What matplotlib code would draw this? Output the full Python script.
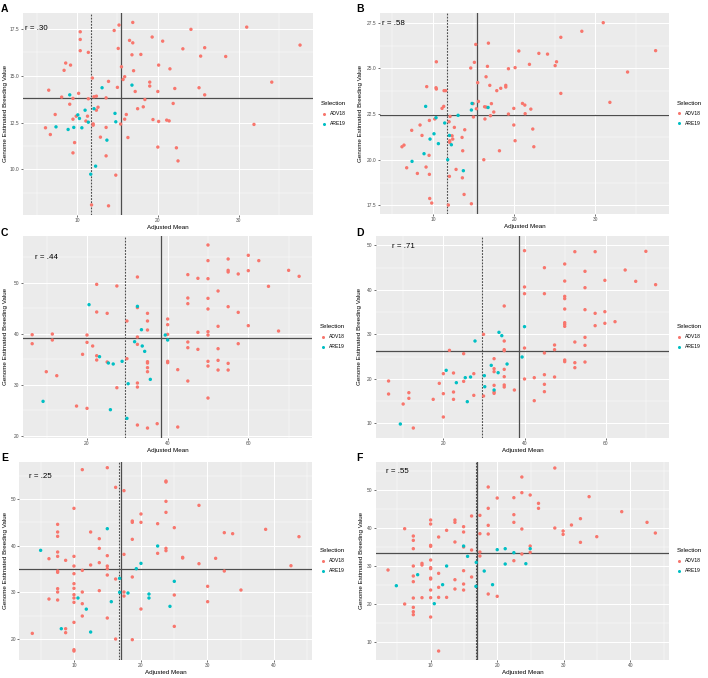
import matplotlib
matplotlib.use('Agg')
import matplotlib.pyplot as plt
from matplotlib.ticker import MultipleLocator, FormatStrFormatter
from matplotlib.lines import Line2D

plt.rcParams['font.family'] = ['Liberation Sans', 'DejaVu Sans']

RED = '#F8766D'
TEAL = '#00BFC4'
series_names = ['ADV18', 'ARE19']
x_title = 'Adjusted Mean'
y_title = 'Genome Estimated Breeding Value'
legend_title = 'Selection'

# ---------------- Panel A ----------------
a_adv_x = [15.2, 16.9, 14.6, 10.4, 10.4, 10.4, 11.4, 15.1, 16.5, 16.9,
           19.3, 20.6, 24.1, 31.0, 37.6, 23.1, 25.8, 16.8, 17.9, 25.3,
           28.4, 8.6, 9.2, 8.4, 15.5, 20.1, 21.5, 17.0, 11.9, 15.9,
           15.7, 13.9, 19.0, 19.0, 34.1, 15.0, 6.5, 10.2, 17.2, 20.0,
           22.1, 25.1, 25.8, 8.1, 9.5, 11.4, 12.1, 12.4, 13.6, 18.4,
           9.1, 21.9, 12.6, 12.4, 17.5, 18.2, 7.3, 16.1, 9.9, 11.3,
           9.5, 11.1, 15.9, 19.4, 20.1, 21.1, 21.4, 12.0, 12.0, 15.4,
           31.9, 6.1, 6.7, 13.6, 12.9, 16.3, 9.7, 9.5, 20.0, 22.3,
           13.6, 22.5, 14.8, 11.8, 13.9]
a_adv_y = [17.71, 17.85, 17.42, 17.35, 16.94, 16.34, 16.25, 16.46, 16.89, 16.76,
           17.07, 16.85, 17.48, 17.60, 16.64, 16.44, 16.50, 16.12, 16.14, 16.05,
           16.03, 15.68, 15.57, 15.29, 15.48, 15.57, 15.37, 15.27, 14.88, 14.95,
           14.80, 14.70, 14.66, 14.45, 14.66, 14.38, 14.23, 14.06, 14.16, 14.16,
           14.32, 14.36, 13.98, 13.86, 13.79, 13.77, 13.88, 13.91, 13.82, 13.73,
           13.48, 13.52, 13.32, 13.16, 13.24, 13.34, 12.93, 12.93, 12.84, 12.84,
           12.68, 12.58, 12.68, 12.66, 12.56, 12.63, 12.59, 12.43, 12.36, 12.42,
           12.40, 12.22, 11.86, 12.24, 11.72, 11.70, 11.43, 10.88, 11.19, 11.15,
           10.72, 10.45, 9.69, 8.10, 8.05]
a_are_x = [16.8, 13.1, 9.1, 11.0, 12.1, 10.1, 14.7, 10.3, 11.4, 14.8, 7.4, 8.9, 9.6, 10.6, 13.7, 12.3, 11.7]
a_are_y = [14.50, 14.36, 13.98, 13.16, 13.24, 12.91, 12.99, 12.72, 12.52, 12.54, 12.27, 12.13, 12.24, 12.22, 11.56, 10.17, 9.74]
a_lines = {'dotted': 11.69, 'solid': 15.44, 'hline': 13.79}

# ---------------- Panel B ----------------
b_adv_x = [30.99, 28.35, 25.76, 15.27, 16.83, 20.58, 23.05, 24.12, 37.45, 10.41,
           15.10, 25.23, 21.89, 25.06, 16.71, 14.65, 19.30, 20.12, 33.99, 16.54,
           15.51, 9.22, 10.37, 10.41, 17.0, 18.97, 18.97, 18.35, 17.86, 11.36,
           11.56, 25.76, 15.60, 31.81, 14.94, 17.20, 16.36, 16.56, 21.03, 21.32,
           11.32, 11.11, 19.96, 22.06, 15.35, 17.49, 17.08, 19.30, 21.36, 12.10,
           14.98, 10.21, 9.55, 16.40, 11.98, 12.63, 8.40, 7.37, 13.91, 19.96,
           22.30, 8.64, 12.35, 13.58, 12.43, 12.06, 12.06, 6.42, 6.17, 20.12,
           22.43, 13.66, 18.19, 9.51, 16.26, 6.75, 9.14, 8.07, 9.55, 12.84,
           13.62, 12.02, 13.83, 9.59, 9.84, 11.89, 14.73]
b_adv_y = [27.5, 27.03, 26.70, 26.31, 26.38, 25.95, 25.82, 25.78, 25.97, 25.36,
           25.33, 25.36, 25.22, 25.15, 25.11, 25.02, 24.98, 25.04, 24.80, 24.54,
           24.22, 24.0, 23.94, 23.87, 24.07, 24.07, 23.98, 23.91, 23.78, 23.78,
           23.78, 23.63, 23.19, 23.14, 23.07, 23.07, 22.90, 22.88, 23.08, 22.99,
           22.92, 22.81, 22.81, 22.77, 22.79, 22.61, 22.41, 22.5, 22.52, 22.37,
           22.34, 22.23, 22.15, 22.23, 22.08, 21.77, 21.90, 21.61, 21.64, 21.90,
           21.68, 21.33, 21.31, 21.22, 21.13, 21.04, 20.95, 20.80, 20.71, 21.04,
           20.71, 20.49, 20.49, 20.24, 20.0, 19.56, 19.60, 19.25, 19.20, 19.47,
           19.01, 19.09, 18.10, 17.88, 17.63, 17.52, 17.59]
b_are_x = [9.09, 14.81, 14.73, 16.79, 13.09, 10.37, 11.44, 10.12, 12.02, 9.63, 10.66, 12.26, 8.89, 11.81, 7.41, 13.74]
b_are_y = [22.92, 23.08, 22.72, 22.86, 22.43, 22.30, 22.01, 21.42, 21.33, 21.13, 20.88, 20.82, 20.33, 20.0, 19.91, 19.40]
b_lines = {'dotted': 11.69, 'solid': 15.47, 'hline': 22.45}

# ---------------- Panel C ----------------
c_adv_x = [50.0, 50.0, 55.0, 60.0, 62.6, 55.0, 55.0, 57.5, 60.0, 70.0,
           72.6, 45.0, 47.5, 50.0, 32.5, 22.4, 27.4, 65.0, 52.5, 45.0,
           50.0, 45.0, 32.5, 55.0, 50.0, 57.5, 22.4, 25.0, 35.0, 40.0,
           29.9, 35.0, 40.0, 52.5, 60.0, 35.0, 32.5, 67.5, 47.5, 50.0,
           50.0, 40.0, 6.4, 11.4, 20.0, 11.4, 6.4, 20.0, 21.4, 45.0,
           45.0, 47.5, 52.5, 57.5, 32.5, 18.9, 22.4, 22.4, 25.0, 29.9,
           35.0, 35.0, 35.0, 35.0, 40.0, 40.0, 50.0, 50.0, 55.0, 52.5,
           52.5, 55.0, 42.5, 9.9, 12.5, 45.0, 32.5, 32.5, 27.4, 50.0,
           17.4, 20.0, 37.4, 32.5, 35.0, 42.5]
c_adv_y = [57.35, 54.29, 54.61, 55.33, 54.29, 52.39, 52.07, 51.68, 52.33, 52.39,
           51.22, 51.55, 50.83, 50.76, 51.09, 49.65, 49.33, 49.26, 48.35, 46.98,
           46.91, 45.87, 45.10, 45.28, 44.83, 44.17, 44.24, 43.98, 43.98, 42.87,
           42.48, 42.48, 41.76, 41.44, 41.57, 40.72, 39.35, 40.52, 40.26, 40.39,
           39.74, 39.87, 39.80, 39.93, 39.74, 38.76, 38.04, 38.30, 37.59, 38.37,
           37.26, 36.93, 37.06, 38.04, 37.91, 35.96, 35.69, 34.85, 34.46, 35.11,
           34.52, 34.26, 33.35, 32.56, 34.59, 34.33, 34.59, 33.67, 34.19, 34.78,
           32.89, 32.89, 32.96, 32.56, 31.78, 30.74, 30.35, 29.56, 29.43, 27.41,
           25.84, 25.39, 22.39, 22.13, 21.54, 21.74]
c_are_x = [20.5, 32.5, 33.5, 39.4, 40.0, 31.8, 33.7, 34.3, 23.1, 28.7, 25.3, 26.5, 35.7, 30.2, 9.1, 25.8, 29.9]
c_are_y = [45.68, 45.35, 40.78, 39.74, 38.76, 38.43, 37.59, 36.54, 35.50, 34.59, 34.26, 34.07, 31.06, 30.21, 26.76, 25.13, 23.43]
c_lines = {'dotted': 29.34, 'solid': 38.43, 'hline': 39.22}

# ---------------- Panel D ----------------
d_adv_x = [40.0, 52.4, 57.4, 69.9, 44.9, 49.9, 54.9, 64.8, 49.9, 59.8,
           67.4, 72.3, 40.0, 54.9, 40.0, 44.9, 49.9, 49.9, 35.0, 49.9,
           54.9, 57.4, 59.8, 62.3, 59.8, 49.9, 49.9, 49.9, 57.4, 29.9,
           35.0, 54.9, 52.4, 54.9, 47.4, 47.4, 35.0, 35.0, 40.0, 21.5,
           25.0, 44.9, 32.5, 49.9, 49.9, 52.4, 54.9, 52.4, 32.5, 35.0,
           32.5, 22.5, 27.5, 20.0, 35.0, 47.4, 42.4, 40.0, 44.9, 25.0,
           19.0, 6.5, 32.5, 35.0, 35.0, 44.9, 37.5, 32.5, 32.5, 22.5,
           11.5, 6.5, 20.0, 44.9, 27.5, 29.9, 11.5, 22.5, 17.5, 42.4,
           10.1, 20.0, 12.6]
d_adv_y = [48.83, 48.60, 48.60, 48.68, 45.00, 45.83, 44.18, 44.48, 41.99, 42.15,
           41.93, 41.18, 40.66, 40.50, 39.15, 39.15, 38.55, 38.03, 36.38, 35.70,
           35.55, 34.73, 35.10, 32.85, 32.48, 32.63, 32.25, 31.80, 31.95, 30.00,
           28.50, 29.32, 28.27, 27.52, 27.60, 26.55, 26.55, 26.32, 26.92, 26.40,
           25.65, 25.80, 24.52, 24.22, 23.85, 23.62, 23.77, 22.50, 22.27, 22.12,
           21.60, 21.30, 21.15, 21.15, 20.47, 20.40, 20.25, 19.95, 20.92, 19.42,
           18.97, 19.50, 18.52, 18.60, 18.15, 18.75, 17.47, 17.02, 16.72, 17.02,
           16.87, 16.57, 16.65, 17.10, 16.27, 16.12, 15.60, 15.37, 15.37, 15.07,
           14.32, 11.40, 8.92]
d_are_x = [33.7, 34.4, 27.8, 40.0, 39.4, 35.7, 31.8, 33.5, 20.7, 25.4, 26.7, 23.2, 30.1, 30.2, 32.5, 25.9, 9.4]
d_are_y = [30.45, 29.70, 28.50, 31.73, 24.90, 23.32, 23.02, 21.37, 21.90, 20.25, 20.40, 19.12, 20.70, 18.22, 17.47, 14.85, 9.82]
d_lines = {'dotted': 29.45, 'solid': 38.56, 'hline': 26.17}

# ---------------- Panel E ----------------
e_adv_x = [11.25, 15.0, 16.25, 17.5, 23.8, 23.8, 23.8, 28.75, 10.0, 20.05,
           23.8, 18.75, 18.75, 20.05, 22.55, 7.55, 25.05, 32.55, 33.8, 38.75,
           43.75, 7.55, 12.5, 7.55, 13.8, 18.75, 13.8, 23.8, 23.8, 7.55,
           22.55, 17.5, 7.55, 10.0, 15.0, 6.25, 8.75, 26.3, 26.3, 31.25,
           13.8, 28.75, 12.5, 42.55, 10.0, 15.0, 15.0, 11.25, 7.55, 7.55,
           32.55, 10.0, 15.0, 18.75, 16.25, 10.0, 30.05, 7.55, 10.0, 35.05,
           7.55, 11.25, 13.8, 17.5, 10.0, 17.5, 25.05, 6.25, 7.55, 10.0,
           10.0, 11.25, 30.05, 20.05, 11.25, 15.0, 10.0, 25.05, 8.75, 8.75,
           3.75, 16.25, 18.75, 10.0, 10.0]
e_adv_y = [56.29, 56.71, 52.50, 51.79, 53.86, 53.64, 49.50, 48.64, 48.00, 46.79,
           47.14, 45.29, 45.00, 45.00, 44.71, 44.57, 43.86, 42.79, 42.57, 43.50,
           41.93, 42.93, 42.93, 42.00, 41.50, 41.36, 39.43, 39.43, 38.93, 38.64,
           38.36, 38.14, 37.71, 37.71, 37.86, 37.21, 36.86, 37.50, 37.36, 37.29,
           36.36, 36.14, 35.86, 35.71, 35.64, 35.64, 35.07, 34.71, 34.57, 34.29,
           34.57, 34.00, 33.71, 33.29, 32.86, 31.86, 31.29, 30.79, 30.86, 30.50,
           30.07, 30.07, 30.36, 30.07, 29.50, 29.21, 29.43, 28.57, 28.36, 28.79,
           27.86, 27.57, 28.00, 26.43, 24.93, 24.50, 23.57, 22.71, 22.21, 21.36,
           21.21, 20.00, 19.86, 17.71, 17.43]
e_are_x = [5.0, 15.0, 22.55, 20.05, 19.35, 25.05, 16.85, 16.85, 18.1, 21.25, 21.25, 10.6, 15.6, 24.4, 11.85, 8.1, 12.5]
e_are_y = [39.00, 43.64, 39.93, 36.21, 35.07, 32.36, 33.00, 30.00, 29.86, 29.64, 28.79, 28.79, 28.00, 27.00, 26.40, 22.21, 21.50]
e_lines = {'dotted': 16.8, 'solid': 17.0, 'hline': 35.07}

# ---------------- Panel F ----------------
f_adv_x = [28.65, 23.7, 18.65, 23.7, 24.95, 33.8, 20.0, 22.5, 26.2, 26.2,
           18.65, 38.7, 16.15, 17.4, 22.5, 22.5, 32.5, 31.15, 42.5, 10.0,
           10.0, 13.65, 13.65, 18.65, 14.95, 14.95, 6.1, 23.7, 28.65, 29.9,
           29.9, 43.75, 12.4, 17.4, 18.65, 7.4, 11.2, 34.95, 7.4, 13.65,
           32.5, 10.0, 10.0, 14.95, 24.95, 7.4, 16.15, 17.4, 24.95, 23.7,
           17.4, 10.0, 22.5, 7.4, 8.7, 8.7, 10.0, 10.0, 3.6, 14.95,
           11.2, 7.4, 10.0, 10.0, 16.15, 13.65, 7.4, 14.95, 11.2, 13.65,
           14.95, 10.0, 18.65, 20.0, 7.4, 8.7, 10.0, 11.2, 12.4, 6.1,
           7.4, 7.4, 7.4, 10.0, 11.2]
f_adv_y = [55.79, 53.42, 50.79, 49.30, 48.68, 48.25, 47.89, 47.98, 46.49, 45.18,
           45.18, 44.30, 43.16, 43.33, 43.51, 41.49, 42.46, 40.79, 41.49, 42.11,
           41.05, 42.11, 41.49, 40.70, 40.35, 38.95, 39.82, 39.74, 40.00, 39.21,
           38.33, 38.68, 39.39, 38.51, 38.42, 37.89, 37.63, 37.72, 36.75, 36.32,
           36.23, 35.44, 35.18, 35.00, 35.26, 34.56, 34.21, 33.68, 33.60, 33.16,
           32.63, 31.58, 31.40, 30.00, 30.70, 30.26, 29.56, 29.30, 28.95, 28.77,
           28.07, 27.37, 26.84, 26.58, 27.11, 26.40, 25.88, 25.26, 24.39, 23.95,
           23.68, 23.68, 22.63, 22.02, 21.58, 21.67, 21.67, 21.75, 21.75, 20.00,
           19.12, 17.98, 17.19, 16.58, 7.63]
f_are_x = [14.95, 15.55, 20.0, 21.2, 22.5, 24.95, 16.85, 21.2, 24.3, 12.4, 18.05, 8.05, 4.85, 11.8, 19.3, 16.8, 10.55]
f_are_y = [35.26, 32.54, 34.30, 34.56, 33.51, 34.56, 30.96, 30.53, 30.61, 30.00, 28.68, 27.72, 24.82, 25.09, 25.09, 24.65, 20.09]
f_lines = {'dotted': 16.8, 'solid': 17.0, 'hline': 33.51}

panel_letters = ['A', 'B', 'C', 'D', 'E', 'F']
r_texts = ['r = .30', 'r = .58', 'r = .44', 'r = .71', 'r = .25', 'r = .55']

# layout in pixels: (left, top, right, bottom) of each plotting panel
panels = [
    dict(adv=(a_adv_x, a_adv_y), are=(a_are_x, a_are_y), lines=a_lines,
         box=(22.7, 12.7, 313.3, 215.0), xlim=(3.28, 39.24), ylim=(7.56, 18.37),
         xstep=10, ystep=2.5, yfmt='%.1f', rpos=(0.008, 0.92), lpos=(1, 4), ylx=6.0),
    dict(adv=(b_adv_x, b_adv_y), are=(b_are_x, b_are_y), lines=b_lines,
         box=(380.0, 13.0, 669.0, 214.0), xlim=(3.46, 39.1), ylim=(17.03, 28.03),
         xstep=10, ystep=2.5, yfmt='%.1f', rpos=(0.007, 0.949), lpos=(356, 4), ylx=360.0),
    dict(adv=(c_adv_x, c_adv_y), are=(c_are_x, c_are_y), lines=c_lines,
         box=(22.7, 236.0, 312.3, 437.7), xlim=(4.05, 75.87), ylim=(19.65, 59.11),
         xstep=20, ystep=10, yfmt='%d', rpos=(0.042, 0.892), lpos=(1, 228), ylx=6.0),
    dict(adv=(d_adv_x, d_adv_y), are=(d_are_x, d_are_y), lines=d_lines,
         box=(375.7, 236.0, 669.0, 437.7), xlim=(3.33, 75.6), ylim=(6.74, 52.13),
         xstep=20, ystep=10, yfmt='%d', rpos=(0.055, 0.95), lpos=(356, 228), ylx=360.0),
    dict(adv=(e_adv_x, e_adv_y), are=(e_are_x, e_are_y), lines=e_lines,
         box=(19.3, 462.0, 312.3, 659.7), xlim=(1.8, 45.75), ylim=(15.57, 57.93),
         xstep=10, ystep=10, yfmt='%d', rpos=(0.034, 0.928), lpos=(1, 453), ylx=6.0),
    dict(adv=(f_adv_x, f_adv_y), are=(f_are_x, f_are_y), lines=f_lines,
         box=(375.7, 462.0, 669.0, 659.7), xlim=(1.75, 45.8), ylim=(5.35, 57.37),
         xstep=10, ystep=10, yfmt='%d', rpos=(0.034, 0.953), lpos=(356, 453), ylx=361.0),
]

W, H = 708, 678
fig = plt.figure(figsize=(W / 100, H / 100), dpi=100)
fig.patch.set_facecolor('white')
LINE_C = '#4D4D4D'

for i, p in enumerate(panels):
    l, t, r, b = p['box']
    wpx, hpx = r - l, b - t
    ax = fig.add_axes([l / W, 1 - b / H, wpx / W, hpx / H])
    ax.set_facecolor('#EBEBEB')
    ax.set_xlim(*p['xlim'])
    ax.set_ylim(*p['ylim'])
    ax.xaxis.set_major_locator(MultipleLocator(p['xstep']))
    ax.xaxis.set_minor_locator(MultipleLocator(p['xstep'] / 2))
    ax.yaxis.set_major_locator(MultipleLocator(p['ystep']))
    ax.yaxis.set_minor_locator(MultipleLocator(p['ystep'] / 2))
    ax.yaxis.set_major_formatter(FormatStrFormatter(p['yfmt']))
    ax.grid(which='major', color='white', lw=0.75)
    ax.grid(which='minor', color='white', lw=0.35)
    ax.set_axisbelow(True)
    for s in ax.spines.values():
        s.set_visible(False)
    ax.tick_params(which='major', length=1.6, width=0.5, color='#333333',
                   labelsize=3.5, labelcolor='#4D4D4D', pad=0.8)
    ax.tick_params(which='minor', length=0)

    L = p['lines']
    ax.axvline(L['dotted'], color=LINE_C, lw=0.8, ls=(0, (1.6, 1.2)), zorder=2)
    ax.axvline(L['solid'], color=LINE_C, lw=0.9, zorder=2)
    ax.axhline(L['hline'], color=LINE_C, lw=0.9, zorder=2)

    ax.scatter(p['adv'][0], p['adv'][1], s=6, c=RED, edgecolors='none', zorder=3)
    ax.scatter(p['are'][0], p['are'][1], s=6, c=TEAL, edgecolors='none', zorder=3)

    ax.set_xlabel(x_title, fontsize=4.5, color='black', va='center')
    ax.xaxis.set_label_coords(0.5, -12.5 / hpx)
    ax.set_ylabel(y_title, fontsize=4.5, color='black', va='center')
    ax.yaxis.set_label_coords((p['ylx'] - l) / wpx, 0.5)

    ax.text(p['rpos'][0], p['rpos'][1], r_texts[i], transform=ax.transAxes,
            fontsize=5.7, ha='left', va='center', color='black')

    handles = [Line2D([], [], ls='none', marker='o', ms=2.2, color=RED, mec='none'),
               Line2D([], [], ls='none', marker='o', ms=2.2, color=TEAL, mec='none')]
    leg = ax.legend(handles, series_names, title=legend_title, loc='center left',
                    bbox_to_anchor=(1.025, 0.5), frameon=False, fontsize=3.6,
                    title_fontsize=4.4, handlelength=1.2, handletextpad=0.6,
                    labelspacing=1.0, borderaxespad=0, borderpad=0, alignment='left')
    leg.get_title().set_color('black')

    fig.text(p['lpos'][0] / W, 1 - p['lpos'][1] / H, panel_letters[i],
             fontsize=7.5, fontweight='bold', ha='left', va='top')

fig.savefig('out.png', dpi=100)
